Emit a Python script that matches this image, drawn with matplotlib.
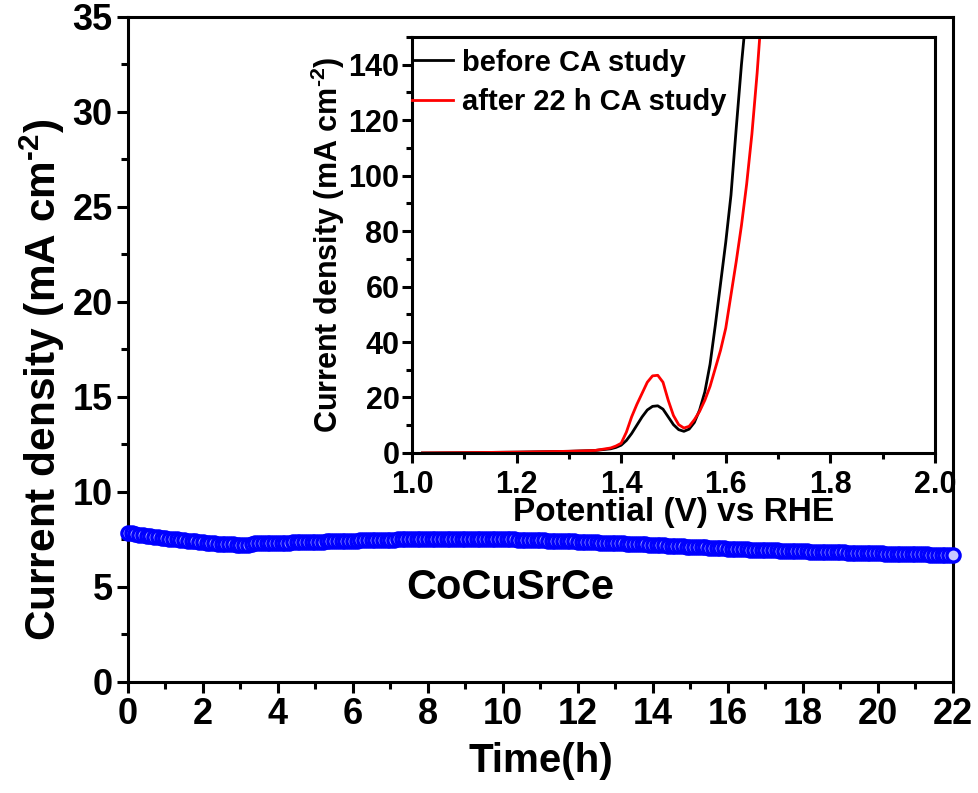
import numpy as np
import matplotlib
matplotlib.use('Agg')
import matplotlib.pyplot as plt
from matplotlib.ticker import MultipleLocator

plt.rcParams['font.family'] = ['Liberation Sans', 'DejaVu Sans']
plt.rcParams['font.weight'] = 'bold'
plt.rcParams['mathtext.fontset'] = 'custom'
plt.rcParams['mathtext.rm'] = 'Liberation Sans:bold'
plt.rcParams['mathtext.bf'] = 'Liberation Sans:bold'
plt.rcParams['mathtext.it'] = 'Liberation Sans:bold:italic'
plt.rcParams['mathtext.default'] = 'bf'

# ------------------------- DATA -------------------------

# chronoamperometry, one point every 0.1 h
time_h = np.round(np.arange(0, 22.01, 0.1), 1)
current = [
    7.85, 7.82, 7.79, 7.76, 7.73, 7.70, 7.67, 7.64, 7.61, 7.58,
    7.56, 7.54, 7.52, 7.50, 7.48, 7.46, 7.44, 7.42, 7.40, 7.38,
    7.36, 7.34, 7.32, 7.30, 7.28, 7.27, 7.26, 7.25, 7.24, 7.23,
    7.22, 7.21, 7.20, 7.28, 7.29, 7.30, 7.30, 7.31, 7.31, 7.32,
    7.33, 7.33, 7.34, 7.34, 7.35, 7.35, 7.36, 7.36, 7.37, 7.37,
    7.38, 7.38, 7.39, 7.40, 7.40, 7.41, 7.41, 7.42, 7.42, 7.43,
    7.44, 7.44, 7.45, 7.45, 7.46, 7.46, 7.47, 7.47, 7.48, 7.48,
    7.49, 7.49, 7.50, 7.50, 7.51, 7.51, 7.52, 7.52, 7.53, 7.53,
    7.54, 7.54, 7.54, 7.55, 7.55, 7.55, 7.55, 7.55, 7.55, 7.55,
    7.55, 7.55, 7.54, 7.54, 7.54, 7.53, 7.53, 7.53, 7.52, 7.52,
    7.51, 7.51, 7.50, 7.50, 7.49, 7.49, 7.48, 7.48, 7.47, 7.46,
    7.46, 7.45, 7.44, 7.44, 7.43, 7.42, 7.42, 7.41, 7.40, 7.40,
    7.39, 7.38, 7.37, 7.37, 7.36, 7.35, 7.34, 7.33, 7.33, 7.32,
    7.31, 7.30, 7.29, 7.28, 7.27, 7.26, 7.26, 7.25, 7.24, 7.23,
    7.22, 7.21, 7.20, 7.19, 7.18, 7.17, 7.16, 7.15, 7.14, 7.13,
    7.12, 7.11, 7.10, 7.09, 7.08, 7.07, 7.06, 7.05, 7.04, 7.03,
    7.02, 7.01, 7.00, 6.99, 6.99, 6.98, 6.97, 6.96, 6.96, 6.95,
    6.94, 6.93, 6.93, 6.92, 6.91, 6.91, 6.90, 6.89, 6.89, 6.88,
    6.87, 6.87, 6.86, 6.86, 6.85, 6.85, 6.84, 6.84, 6.83, 6.83,
    6.82, 6.82, 6.81, 6.81, 6.80, 6.80, 6.79, 6.79, 6.78, 6.78,
    6.77, 6.77, 6.76, 6.76, 6.75, 6.75, 6.74, 6.74, 6.73, 6.73,
    6.72, 6.72, 6.71, 6.71, 6.70, 6.70, 6.69, 6.69, 6.68, 6.68,
    6.67,
]

# LSV inset
pot_before = [1.02, 1.10, 1.20, 1.30, 1.35, 1.38, 1.39, 1.40, 1.41, 1.42, 1.43, 1.44,
              1.45, 1.46, 1.47, 1.48, 1.49, 1.50, 1.51, 1.52, 1.53, 1.54, 1.55,
              1.56, 1.57, 1.58, 1.59, 1.60, 1.61, 1.62, 1.63, 1.635]
cd_before = [0.0, 0.1, 0.3, 0.6, 0.9, 1.5, 2.0, 2.8, 4.5, 7.0, 10.0, 13.0,
             15.5, 16.8, 17.0, 15.8, 13.0, 10.2, 8.4, 7.8, 8.6, 11.0, 15.5,
             22.0, 32.0, 46.0, 61.0, 76.0, 93.0, 117.0, 140.0, 150.0]
pot_after = [1.02, 1.10, 1.20, 1.30, 1.35, 1.38, 1.39, 1.40, 1.41, 1.42, 1.43, 1.44,
             1.45, 1.46, 1.47, 1.48, 1.49, 1.50, 1.51, 1.52, 1.53, 1.54, 1.55,
             1.56, 1.57, 1.58, 1.59, 1.60, 1.61, 1.62, 1.63, 1.64, 1.65, 1.66, 1.665]
cd_after = [0.0, 0.1, 0.3, 0.6, 0.9, 1.8, 2.5, 3.5, 7.5, 13.0, 17.5, 21.5,
            25.5, 27.8, 28.0, 25.5, 19.0, 13.5, 10.2, 9.0, 9.6, 12.0, 15.0,
            19.0, 24.0, 30.5, 37.0, 45.0, 57.0, 69.0, 82.0, 97.0, 115.0, 137.0, 150.0]

# ------------------------- PLOT -------------------------

fig = plt.figure(figsize=(9.79, 7.93), dpi=100)
ax = fig.add_axes([0.1307, 0.14, 0.8427, 0.8386])

ax.plot(time_h, current, linestyle='none', marker='o', markersize=9.5,
        markerfacecolor='#c8c8ff', markeredgecolor='#0000ff', markeredgewidth=2.4,
        clip_on=False, zorder=3)

ax.set_xlim(0, 22)
ax.set_ylim(0, 35)
ax.xaxis.set_major_locator(MultipleLocator(2))
ax.xaxis.set_minor_locator(MultipleLocator(1))
ax.yaxis.set_major_locator(MultipleLocator(5))
ax.yaxis.set_minor_locator(MultipleLocator(2.5))
ax.tick_params(which='both', direction='out', width=2.2, labelsize=26, top=False, right=False, pad=3)
ax.tick_params(which='major', length=8)
ax.tick_params(which='minor', length=5)
for s in ax.spines.values():
    s.set_linewidth(2.2)
ax.set_xlabel('Time(h)', fontsize=29, fontweight='bold', labelpad=7)
ax.set_ylabel('Current density (mA cm$^{\\text{-2}}$)', fontsize=30.5, fontweight='bold')
ax.yaxis.set_label_coords(-0.074, 0.455)
ax.text(10.2, 4.95, 'CoCuSrCe', fontsize=30, fontweight='bold', ha='center', va='center')

# Inset
ins = fig.add_axes([0.4208, 0.4288, 0.5342, 0.5246])
ins.plot(pot_before, cd_before, color='black', lw=2, label='before CA study')
ins.plot(pot_after, cd_after, color='red', lw=2, label='after 22 h CA study')
ins.set_xlim(1.0, 2.0)
ins.set_ylim(0, 150)
ins.xaxis.set_major_locator(MultipleLocator(0.2))
ins.xaxis.set_minor_locator(MultipleLocator(0.1))
ins.yaxis.set_major_locator(MultipleLocator(20))
ins.yaxis.set_minor_locator(MultipleLocator(10))
ins.tick_params(which='both', direction='out', width=2.2, labelsize=22, top=False, right=False)
ins.tick_params(axis='y', pad=2)
ins.tick_params(axis='x', pad=5)
ins.tick_params(which='major', length=7)
ins.tick_params(which='minor', length=4)
for s in ins.spines.values():
    s.set_linewidth(2.2)
ins.set_xlabel('Potential (V) vs RHE', fontsize=24, fontweight='bold', labelpad=-2)
ins.set_ylabel('Current density (mA cm$^{\\text{-2}}$)', fontsize=22, fontweight='bold', labelpad=1)
ins.legend(loc='upper left', bbox_to_anchor=(0.0, 0.972), frameon=False, fontsize=21,
           handlelength=1.4, handletextpad=0.3, borderaxespad=0.0, borderpad=0.0,
           labelspacing=0.4)

fig.savefig('out.png', dpi=100)
